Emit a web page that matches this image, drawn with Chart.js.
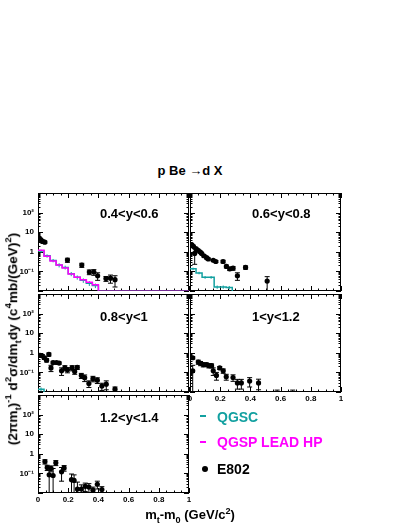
<!DOCTYPE html>
<html>
<head>
<meta charset="UTF-8">
<title>p Be → d X</title>
<script src="https://cdn.jsdelivr.net/npm/chart.js@4"></script>
<style>
  body { margin: 0; background: #fff; font-family: "Liberation Sans", Arial, sans-serif; }
  #page { position: relative; width: 411px; height: 532px; overflow: hidden; }
  canvas { position: absolute; }
  .txt { position: absolute; font-weight: bold; white-space: nowrap; line-height: 1; color: #000; }
  .txt sub, .txt sup { font-size: 70%; line-height: 0; }
  .lab { font-size: 13px; }
  .leg { font-size: 14px; left: 217px; }
  #title { left: 0; width: 380px; text-align: center; top: 164px; font-size: 13px; }
  #xtitle { left: 0; width: 380px; text-align: center; top: 508px; font-size: 13px; }
  #ytitle { left: 13px; top: 339px; font-size: 14px; transform: translate(-50%, -50%) rotate(-90deg); }
  .dash { position: absolute; width: 6px; height: 2px; }
  .dot { position: absolute; width: 6px; height: 6px; border-radius: 50%; background: #000; }
</style>
</head>
<body>
<div id="page">
  <canvas id="pA" width="194" height="117"></canvas>
  <canvas id="pB" width="194" height="117"></canvas>
  <canvas id="pC" width="194" height="117"></canvas>
  <canvas id="pD" width="194" height="117"></canvas>
  <canvas id="pE" width="194" height="117"></canvas>

  <div class="txt" id="title">p Be →d X</div>
  <div class="txt lab" style="left:100px; top:207px;">0.4&lt;y&lt;0.6</div>
  <div class="txt lab" style="left:252px; top:207px;">0.6&lt;y&lt;0.8</div>
  <div class="txt lab" style="left:100px; top:310px;">0.8&lt;y&lt;1</div>
  <div class="txt lab" style="left:252px; top:310px;">1&lt;y&lt;1.2</div>
  <div class="txt lab" style="left:100px; top:411px;">1.2&lt;y&lt;1.4</div>

  <div class="dash" style="left:200px; top:415px; background:#12a0a0;"></div>
  <div class="txt leg" style="top:410px; color:#12a0a0;">QGSC</div>
  <div class="dash" style="left:200px; top:441px; background:#ff00ff;"></div>
  <div class="txt leg" style="top:435px; color:#ff00ff;">QGSP LEAD HP</div>
  <div class="dot" style="left:202px; top:466px;"></div>
  <div class="txt leg" style="top:462px;">E802</div>

  <div class="txt" id="xtitle">m<sub>t</sub>-m<sub>0</sub> (GeV/c<sup>2</sup>)</div>
  <div class="txt" id="ytitle">(2πm<sub>t</sub>)<sup>-1</sup> d<sup>2</sup>σ/dm<sub>t</sub>dy (c<sup>4</sup>mb/(GeV)<sup>2</sup>)</div>
</div>

<script>
// axis setup
const yMin = 0.01, yMax = 1000;
const xTickLabels = ['0', '0.2', '0.4', '0.6', '0.8', '1'];
const yTickValues = [0.1, 1, 10, 100];
const yTickLabels = ['10⁻¹', '1', '10', '10²'];
const binW = 0.04;

// 0.4<y<0.6
const e802A_x = [0.007, 0.018, 0.030, 0.045, 0.195, 0.290, 0.340, 0.370, 0.395, 0.450, 0.480, 0.510];
const e802A_y = [5.0, 4.2, 3.4, 3.1, 0.38, 0.21, 0.093, 0.093, 0.060, 0.043, 0.045, 0.038];
const e802A_err = [0.8, 0.6, 0.5, 0.4, 0.09, 0.05, 0.025, 0.03, 0.025, 0.012, 0.02, 0.022];
const qgscA = [1.1, 0.62, 0.36, 0.21, 0.16, 0.075, 0.05, 0.035, 0.025, 0.019];
const qgscA_err = [0.2, 0.12, 0.07, 0.05, 0.035, 0.018, 0.012, 0.009, 0.007, 0.005];
const qgspA = [1.2, 0.6, 0.34, 0.21, 0.15, 0.074, 0.05, 0.038, 0.028, 0.021];

// 0.6<y<0.8
const e802B_x = [0.011, 0.022, 0.031, 0.039, 0.053, 0.066, 0.077, 0.092, 0.110, 0.121, 0.154, 0.171, 0.219, 0.241, 0.263, 0.285, 0.314, 0.368, 0.511];
const e802B_y = [2.3, 1.9, 0.83, 1.47, 1.2, 1.0, 0.83, 0.63, 0.5, 0.43, 0.37, 0.32, 0.32, 0.18, 0.135, 0.146, 0.06, 0.16, 0.032];
const e802B_err = [0.3, 0.25, 0.6, 0.2, 0.15, 0.12, 0.1, 0.08, 0.06, 0.05, 0.04, 0.04, 0.05, 0.03, 0.025, 0.03, 0.025, 0.03, 0.022];
const qgscB = [0.135, 0.083, 0.05, 0.05, 0.016, 0.016, 0.015];
const qgscB_err = [0.02, 0.012, 0.008, 0.008, 0.003, 0.003, 0.003];

// 0.8<y<1
const e802C_x = [0.013, 0.028, 0.042, 0.057, 0.072, 0.086, 0.100, 0.123, 0.140, 0.156, 0.178, 0.195, 0.226, 0.243, 0.260, 0.287, 0.309, 0.337, 0.364, 0.393, 0.423, 0.452, 0.510];
const e802C_y = [0.74, 0.70, 0.56, 0.42, 0.83, 0.17, 0.32, 0.32, 0.30, 0.12, 0.17, 0.135, 0.17, 0.11, 0.18, 0.069, 0.054, 0.027, 0.048, 0.040, 0.020, 0.025, 0.014];
const e802C_err = [0.12, 0.12, 0.1, 0.08, 0.15, 0.06, 0.05, 0.04, 0.04, 0.05, 0.05, 0.04, 0.05, 0.03, 0.04, 0.02, 0.02, 0.01, 0.015, 0.013, 0.008, 0.012, 0.004];
const qgscC = [0.014];
const qgscC_err = [0.003];

// 1<y<1.2
const e802D_x = [0.018, 0.018, 0.055, 0.070, 0.088, 0.110, 0.125, 0.143, 0.154, 0.175, 0.197, 0.220, 0.240, 0.285, 0.314, 0.340, 0.395, 0.454, 0.577, 0.680];
const e802D_y = [0.56, 0.12, 0.34, 0.29, 0.25, 0.25, 0.22, 0.22, 0.12, 0.07, 0.17, 0.12, 0.06, 0.055, 0.029, 0.029, 0.036, 0.029, 0.004, 0.004];
const e802D_err = [0.08, 0.11, 0.08, 0.07, 0.06, 0.05, 0.05, 0.05, 0.05, 0.03, 0.03, 0.03, 0.02, 0.02, 0.015, 0.015, 0.018, 0.016, 0.0085, 0.0085];

// 1.2<y<1.4
const e802E_x = [0.046, 0.061, 0.074, 0.086, 0.100, 0.118, 0.156, 0.173, 0.222, 0.239, 0.261, 0.287, 0.313, 0.337, 0.364, 0.393, 0.423];
const e802E_y = [0.40, 0.20, 0.085, 0.18, 0.078, 0.35, 0.12, 0.19, 0.048, 0.044, 0.016, 0.016, 0.022, 0.02, 0.014, 0.028, 0.015];
const e802E_err = [0.1, 0.06, 0.12, 0.06, 0.1, 0.1, 0.08, 0.06, 0.045, 0.04, 0.02, 0.01, 0.01, 0.01, 0.006, 0.012, 0.006];

const teal = '#12a0a0', magenta = '#ff00ff';

function e802Sets(xs, ys, errs) {
  const pts = xs.map((x, i) => ({ x: x, y: ys[i] }));
  const bars = [];
  xs.forEach((x, i) => {
    bars.push({ x: x, y: Math.max(ys[i] - errs[i], 1e-4) }, { x: x, y: ys[i] + errs[i] }, { x: x, y: null });
  });
  return [
    { data: pts, showLine: false, pointRadius: 2.6, pointBackgroundColor: '#000', pointBorderWidth: 0, order: 0 },
    { data: bars, borderColor: '#000', borderWidth: 1, pointStyle: 'line', pointRadius: 2.5,
      pointBorderColor: '#000', pointBorderWidth: 1, order: 1 }
  ];
}

function histSet(vals, color, tail, order) {
  const pts = vals.map((v, i) => ({ x: i * binW, y: Math.max(v, yMin) }));
  const end = vals.length * binW;
  pts.push({ x: end, y: Math.max(vals[vals.length - 1], yMin) }, { x: end, y: yMin });
  if (tail) pts.push({ x: 1, y: yMin });
  return {
    data: pts, stepped: true, borderColor: color, borderWidth: 1.5, pointRadius: 0, order: order,
    segment: { borderColor: c => (c.p0.parsed.y <= yMin && c.p1.parsed.y <= yMin) ? '#7a2c9c' : undefined }
  };
}

function histErrSet(vals, errs, color, order) {
  const bars = [];
  vals.forEach((v, i) => {
    const x = (i + 0.5) * binW;
    bars.push({ x: x, y: Math.max(v - errs[i], 1e-4) }, { x: x, y: v + errs[i] }, { x: x, y: null });
  });
  return { data: bars, borderColor: color, borderWidth: 1, pointRadius: 0, order: order };
}

// ROOT-like frame with inward ticks on all sides
const rootFrame = {
  id: 'rootFrame',
  beforeDatasetsDraw(chart) {
    const { ctx, chartArea: a } = chart;
    const xs = chart.scales.x, ys = chart.scales.y;
    ctx.save();
    ctx.strokeStyle = '#000';
    ctx.lineWidth = 1;
    ctx.strokeRect(a.left + 0.5, a.top + 0.5, a.width - 1, a.height - 1);
    ctx.beginPath();
    for (let k = 0; k <= 20; k++) {
      const px = Math.round(xs.getPixelForValue(k * 0.05)) + 0.5;
      const len = k % 4 === 0 ? 5 : 2.5;
      ctx.moveTo(px, a.bottom); ctx.lineTo(px, a.bottom - len);
      ctx.moveTo(px, a.top); ctx.lineTo(px, a.top + len);
    }
    for (let e = -2; e <= 2; e++) {
      for (let m = 1; m <= 9; m++) {
        const py = Math.round(ys.getPixelForValue(m * Math.pow(10, e))) + 0.5;
        const len = m === 1 ? 5 : 2.5;
        ctx.moveTo(a.left, py); ctx.lineTo(a.left + len, py);
        ctx.moveTo(a.right, py); ctx.lineTo(a.right - len, py);
      }
    }
    ctx.stroke();
    ctx.restore();
  }
};

function panel(id, left, top, datasets, showX, showY) {
  const el = document.getElementById(id);
  el.style.left = (left - 38) + 'px';
  el.style.top = (top - 2) + 'px';
  return new Chart(el, {
    type: 'line',
    data: { datasets: datasets },
    options: {
      responsive: false,
      animation: false,
      events: [],
      layout: { padding: { top: 2, right: 4, left: 0, bottom: 0 } },
      plugins: { legend: { display: false }, tooltip: { enabled: false } },
      scales: {
        x: {
          type: 'linear', min: 0, max: 1,
          grid: { display: false, drawTicks: false }, border: { display: false },
          ticks: {
            display: showX, stepSize: 0.2, padding: 2, autoSkip: false, maxRotation: 0, color: '#000',
            font: { size: 8, weight: 'bold' },
            callback: v => xTickLabels[Math.round(v / 0.2)]
          },
          afterFit: s => { s.height = 14; s.paddingLeft = 0; s.paddingRight = 0; }
        },
        y: {
          type: 'logarithmic', min: yMin, max: yMax,
          grid: { display: false, drawTicks: false }, border: { display: false },
          ticks: {
            display: showY, padding: 4, autoSkip: false, color: '#000',
            font: { size: 8, weight: 'bold' },
            callback: v => {
              const i = yTickValues.findIndex(t => Math.abs(Math.log10(v) - Math.log10(t)) < 1e-6);
              return i >= 0 ? yTickLabels[i] : '';
            }
          },
          afterFit: s => { s.width = 38; s.paddingTop = 0; s.paddingBottom = 0; }
        }
      }
    },
    plugins: [rootFrame]
  });
}

Chart.defaults.font.family = '"Liberation Sans", Arial, sans-serif';

panel('pA', 38, 190, [
  ...e802Sets(e802A_x, e802A_y, e802A_err),
  histSet(qgspA, magenta, true, 2),
  histSet(qgscA, teal, true, 3),
  histErrSet(qgscA, qgscA_err, teal, 4)
], false, true);

panel('pB', 190, 190, [
  ...e802Sets(e802B_x, e802B_y, e802B_err),
  histSet(qgscB, teal, false, 3),
  histErrSet(qgscB, qgscB_err, teal, 4)
], false, false);

panel('pC', 38, 291, [
  ...e802Sets(e802C_x, e802C_y, e802C_err),
  histSet(qgscC, teal, false, 3),
  histErrSet(qgscC, qgscC_err, teal, 4)
], false, true);

panel('pD', 190, 291, e802Sets(e802D_x, e802D_y, e802D_err), true, false);

panel('pE', 38, 392, e802Sets(e802E_x, e802E_y, e802E_err), true, true);

// y title should span about 212 px, as in the reference
const yt = document.getElementById('ytitle');
yt.style.fontSize = (14 * 212 / yt.offsetWidth).toFixed(2) + 'px';
</script>
</body>
</html>
